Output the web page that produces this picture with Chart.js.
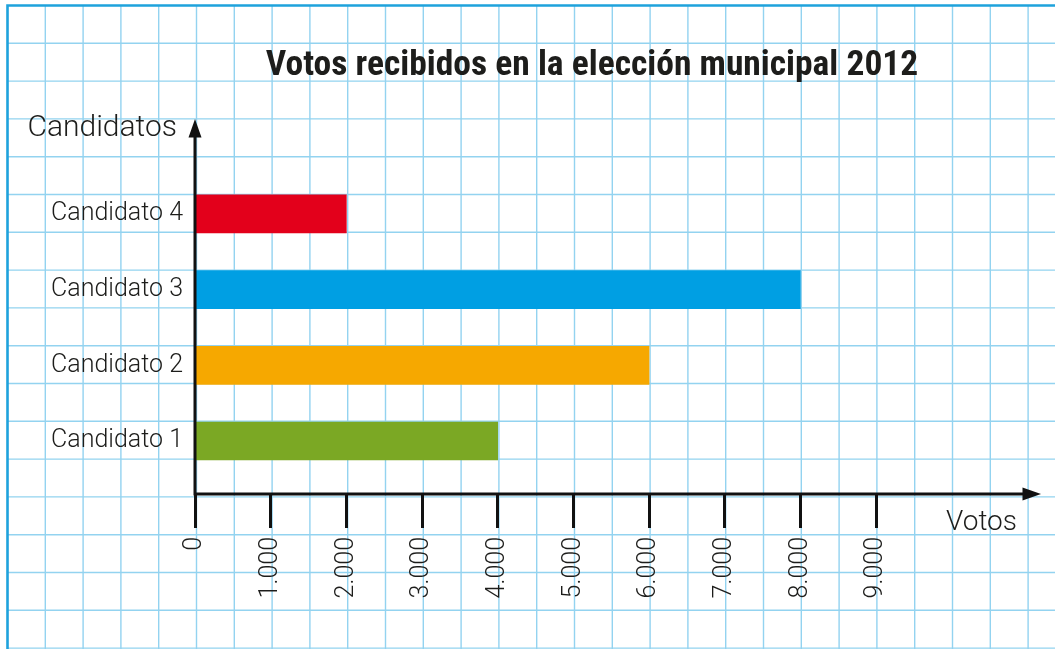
<!DOCTYPE html>
<html lang="es">
<head>
<meta charset="utf-8">
<title>Votos recibidos en la elección municipal 2012</title>
<script src="https://cdn.jsdelivr.net/npm/chart.js@4.4.1/dist/chart.umd.min.js"></script>
<style>
  html, body { margin: 0; padding: 0; background: #fff; }
  #wrap { position: relative; width: 1055px; height: 649px; }
</style>
</head>
<body>
<div id="wrap"><canvas id="grafico"></canvas></div>
<script>
// Datos de la gráfica
const candidatos = ['Candidato 1', 'Candidato 2', 'Candidato 3', 'Candidato 4'];
const votos = [4000, 6000, 8000, 2000];
const colores = ['#7ba824', '#f6a800', '#009fe3', '#e3001b'];
const marcasVotos = [0, 1000, 2000, 3000, 4000, 5000, 6000, 7000, 8000, 9000];
const etiquetasVotos = ['0', '1.000', '2.000', '3.000', '4.000', '5.000', '6.000', '7.000', '8.000', '9.000'];

const titulo = 'Votos recibidos en la elección municipal 2012';
const tituloEjeY = 'Candidatos';
const tituloEjeX = 'Votos';

const TINTA = '#1d1d1b';
const LIGERA = '"Roboto", "Liberation Sans", sans-serif';
const NEGRITA = '"Liberation Sans Narrow", "Roboto Condensed", "Liberation Sans", sans-serif';

// Papel cuadriculado de fondo
const papel = {
  id: 'papel',
  beforeDraw(chart) {
    const ctx = chart.ctx;
    const W = chart.width, H = chart.height;
    const paso = 37.8, x0 = 7.5, y0 = 5.5;
    ctx.save();
    ctx.fillStyle = '#ffffff';
    ctx.fillRect(0, 0, W, H);
    ctx.strokeStyle = '#93d3f0';
    ctx.lineWidth = 1.4;
    ctx.beginPath();
    for (let x = x0 + paso; x < W + 1; x += paso) {
      ctx.moveTo(x, y0); ctx.lineTo(x, H);
    }
    for (let y = y0 + paso; y < H + 1; y += paso) {
      ctx.moveTo(x0, y); ctx.lineTo(W, y);
    }
    ctx.stroke();
    // marco
    ctx.strokeStyle = '#1ea2dc';
    ctx.lineWidth = 2.6;
    ctx.beginPath();
    ctx.moveTo(x0, H); ctx.lineTo(x0, y0); ctx.lineTo(W, y0);
    ctx.stroke();
    ctx.restore();
  }
};

// Ejes con flechas y rótulos
const ejes = {
  id: 'ejes',
  afterDraw(chart) {
    const ctx = chart.ctx;
    const a = chart.chartArea;
    const ox = a.left, oy = a.bottom;
    ctx.save();
    ctx.strokeStyle = '#111';
    ctx.fillStyle = '#111';
    ctx.lineWidth = 3;
    ctx.beginPath();
    ctx.moveTo(ox, oy + 1.5); ctx.lineTo(ox, 134);
    ctx.moveTo(ox - 1.5, oy); ctx.lineTo(1026, oy);
    ctx.stroke();
    // flecha vertical
    ctx.beginPath();
    ctx.moveTo(ox, 119); ctx.lineTo(ox - 6.5, 137.5); ctx.lineTo(ox + 6.5, 137.5); ctx.closePath();
    ctx.fill();
    // flecha horizontal
    ctx.beginPath();
    ctx.moveTo(1041, oy); ctx.lineTo(1022.5, oy - 6.5); ctx.lineTo(1022.5, oy + 6.5); ctx.closePath();
    ctx.fill();

    ctx.fillStyle = TINTA;
    ctx.textBaseline = 'middle';
    ctx.font = 'bold 35.5px ' + NEGRITA;
    ctx.textAlign = 'center';
    ctx.fillText(titulo, 592, 66);

    ctx.font = '300 30px ' + LIGERA;
    ctx.textAlign = 'right';
    ctx.fillText(tituloEjeY, 177, 128);
    ctx.font = '300 28px ' + LIGERA;
    ctx.fillText(tituloEjeX, 1017, 523);
    ctx.restore();
  }
};

const puntos = votos.map((v, i) => ({ x: v, y: i + 1 }));

new Chart(document.getElementById('grafico'), {
  type: 'bar',
  data: {
    datasets: [{
      data: puntos,
      backgroundColor: colores,
      borderWidth: 0,
      barThickness: 38
    }]
  },
  options: {
    indexAxis: 'y',
    responsive: true,
    maintainAspectRatio: false,
    animation: false,
    layout: { padding: { left: 0, top: 120, right: 27.6, bottom: 0 } },
    plugins: {
      legend: { display: false },
      title: { display: false },
      tooltip: { enabled: false }
    },
    scales: {
      x: {
        type: 'linear',
        min: 0,
        max: 11000,
        afterFit(scale) { scale.height = 155; },
        afterBuildTicks(scale) { scale.ticks = marcasVotos.map(v => ({ value: v })); },
        border: { display: false },
        grid: {
          display: true,
          drawOnChartArea: false,
          drawTicks: true,
          tickLength: 34,
          tickColor: '#111',
          tickWidth: 3
        },
        ticks: {
          autoSkip: false,
          minRotation: 90,
          maxRotation: 90,
          padding: 9,
          color: TINTA,
          font: { family: LIGERA, size: 25, weight: '300' },
          callback: (v, i) => etiquetasVotos[i]
        }
      },
      y: {
        type: 'linear',
        offset: false,
        min: 0.3,
        max: 5.24,
        afterFit(scale) { scale.width = 195; },
        afterBuildTicks(scale) { scale.ticks = candidatos.map((c, i) => ({ value: i + 1 })); },
        border: { display: false },
        grid: { display: false },
        ticks: {
          autoSkip: false,
          padding: 4,
          color: TINTA,
          font: { family: LIGERA, size: 25, weight: '300' },
          callback: (v) => candidatos[v - 1]
        }
      }
    }
  },
  plugins: [papel, ejes]
});
</script>
</body>
</html>
